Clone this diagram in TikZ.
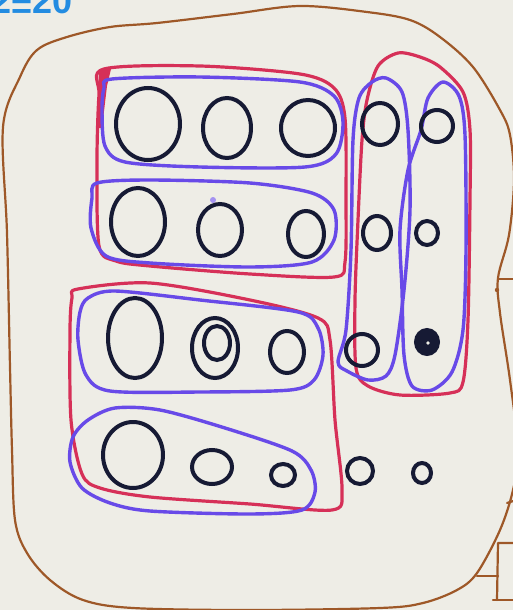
\documentclass[tikz,border=0pt]{standalone}
\usepackage{fontspec}
\newfontfamily\handfont{Liberation Sans}
\usetikzlibrary{shapes.geometric}
\definecolor{paper}{RGB}{238,237,230}
\definecolor{brownc}{RGB}{158,88,40}
\definecolor{redc}{RGB}{214,48,88}
\definecolor{bluec}{RGB}{104,74,232}
\definecolor{inkc}{RGB}{22,26,52}
\definecolor{textblue}{RGB}{35,140,225}
\begin{document}
\begin{tikzpicture}[x=1pt,y=-1pt,
  brownline/.style={draw=brownc, line width=2.2pt, line cap=round, line join=round},
  redloop/.style={draw=redc, line width=3.2pt, line join=round},
  blueloop/.style={draw=bluec, line width=3.4pt, line join=round},
  bead/.style={ellipse, draw=inkc, line width=4pt, inner sep=0pt, outer sep=0pt}]
\useasboundingbox[fill=paper] (0,0) rectangle (513,610);

% label
\node[anchor=base west, inner sep=0pt, text=textblue, font=\handfont\bfseries\fontsize{36}{36}\selectfont] (label) at (-9,14) {2\raisebox{-5pt}{=}20};

% brown outline
\draw[brownline] plot[smooth cycle, tension=0.55] coordinates {
 (3,127) (20,77) (37,50) (67,37) (110,27) (157,23) (233,14) (300,6) (367,12)
 (410,20) (440,37) (473,67) (500,110) (510,135) (514,180) (509,235) (498,278)
 (500,313) (510,380) (518,450) (513,490) (500,530) (477,573) (457,590)
 (423,603) (380,608) (250,610) (133,608) (83,600) (50,580) (27,553) (15,520)
 (12,450) (10,367) (7,233)};
\coordinate (t1) at (498,279); \coordinate (t1e) at (513,279);
\draw[brownline] (t1) -- (t1e);
\fill[brownc] (497,290) circle[radius=2.2pt];
\coordinate (t2) at (507,503); \coordinate (t2e) at (513,501);
\draw[brownline] (t2) -- (t2e);
\coordinate (b1) at (513,543); \coordinate (b2) at (498,543);
\coordinate (b3) at (497,600); \coordinate (b4) at (513,600);
\coordinate (b5) at (477,576); \coordinate (b6) at (498,576);
\draw[brownline] (b1) -- (b2) -- (b3);
\draw[brownline] (b5) -- (b6);
\draw[brownline] (493,600) -- (b4);

% red groups
\draw[redloop] plot[smooth cycle, tension=0.5] coordinates {
 (104,69) (200,66) (300,74) (334,88) (345,118) (346,200) (345,262) (334,277)
 (250,274) (150,266) (116,261) (99,246) (97,160) (99,95)};
\fill[redc] (99,69) -- (111,69) -- (107,86) -- (102,128) -- (97,128) -- cycle;
\draw[redloop] plot[smooth cycle, tension=0.5] coordinates {
 (78,289) (150,283) (250,300) (318,318) (330,340) (335,420) (342,490) (332,510)
 (250,504) (150,497) (100,488) (82,474) (71,420) (70,330) (72,298)};
\draw[redloop] plot[smooth cycle, tension=0.5] coordinates {
 (398,53) (378,66) (367,100) (362,140) (358,220) (355,300) (356,368) (368,386)
 (400,395) (450,393) (463,382) (468,320) (470,200) (470,130) (463,92) (440,67) (420,57)};

% blue groups
\draw[blueloop] plot[smooth cycle, tension=0.5] coordinates {
 (112,79) (200,77) (300,82) (334,96) (343,122) (336,154) (305,167) (200,167)
 (125,162) (105,146) (102,110) (104,88)};
\draw[blueloop] plot[smooth cycle, tension=0.5] coordinates {
 (97,183) (150,180) (250,183) (312,193) (334,210) (334,240) (312,262) (250,267)
 (150,263) (106,256) (91,228) (92,198)};
\draw[blueloop] plot[smooth cycle, tension=0.5] coordinates {
 (88,298) (115,291) (200,300) (298,312) (318,328) (323,355) (314,380) (290,390)
 (200,392) (110,391) (86,375) (78,340) (80,312)};
\draw[blueloop] plot[smooth cycle, tension=0.5] coordinates {
 (73,437) (88,420) (115,408) (160,410) (225,428) (292,451) (311,470) (315,492)
 (302,510) (250,514) (150,511) (110,503) (82,488) (70,462)};
\draw[blueloop] plot[smooth cycle, tension=0.5] coordinates {
 (386,78) (402,92) (408,130) (410,210) (404,290) (395,355) (386,376) (368,380)
 (347,371) (338,362) (346,330) (351,250) (353,140) (359,98) (372,82)};
\draw[blueloop] plot[smooth cycle, tension=0.5] coordinates {
 (443,82) (459,96) (465,135) (466,250) (463,330) (452,372) (432,390) (412,386)
 (404,355) (402,290) (400,230) (408,170) (421,130) (428,98)};

% small blue ink dot
\fill[bluec!60] (213,200) circle[radius=3pt];

% beads
\node[bead, minimum width=64pt, minimum height=72pt] (r1a) at (148,124) {};
\node[bead, minimum width=48pt, minimum height=60pt] (r1b) at (227,128) {};
\node[bead, minimum width=54pt, minimum height=56pt] (r1c) at (308,128) {};
\node[bead, minimum width=54pt, minimum height=68pt] (r2a) at (138,222) {};
\node[bead, minimum width=44pt, minimum height=52pt] (r2b) at (220,230) {};
\node[bead, minimum width=36pt, minimum height=46pt] (r2c) at (306,234) {};
\node[bead, minimum width=54pt, minimum height=80pt] (r3a) at (135,338) {};
\node[bead, minimum width=46pt, minimum height=60pt] (r3b) at (215,348) {};
\node[bead, minimum width=26pt, minimum height=34pt] (r3bi) at (217,343) {};
\node[bead, minimum width=34pt, minimum height=42pt] (r3c) at (287,352) {};
\node[bead, minimum width=60pt, minimum height=66pt] (r4a) at (133,455) {};
\node[bead, minimum width=40pt, minimum height=34pt] (r4b) at (212,467) {};
\node[bead, minimum width=24pt, minimum height=22pt] (r4c) at (283,475) {};
\node[bead, minimum width=26pt, minimum height=26pt] (x1) at (360,471) {};
\node[bead, minimum width=18pt, minimum height=20pt] (x2) at (422,473) {};
\node[bead, minimum width=36pt, minimum height=42pt] (ca1) at (380,124) {};
\node[bead, minimum width=28pt, minimum height=34pt] (ca2) at (377,233) {};
\node[bead, minimum width=32pt, minimum height=32pt] (ca3) at (362,350) {};
\node[bead, minimum width=32pt, minimum height=32pt] (cb1) at (437,126) {};
\node[bead, minimum width=22pt, minimum height=24pt] (cb2) at (427,233) {};
\node[bead, fill=inkc, minimum width=22pt, minimum height=24pt] (cb3) at (427,342) {};
\fill[paper] (428,343) circle[radius=1.8pt];
\end{tikzpicture}
\end{document}
